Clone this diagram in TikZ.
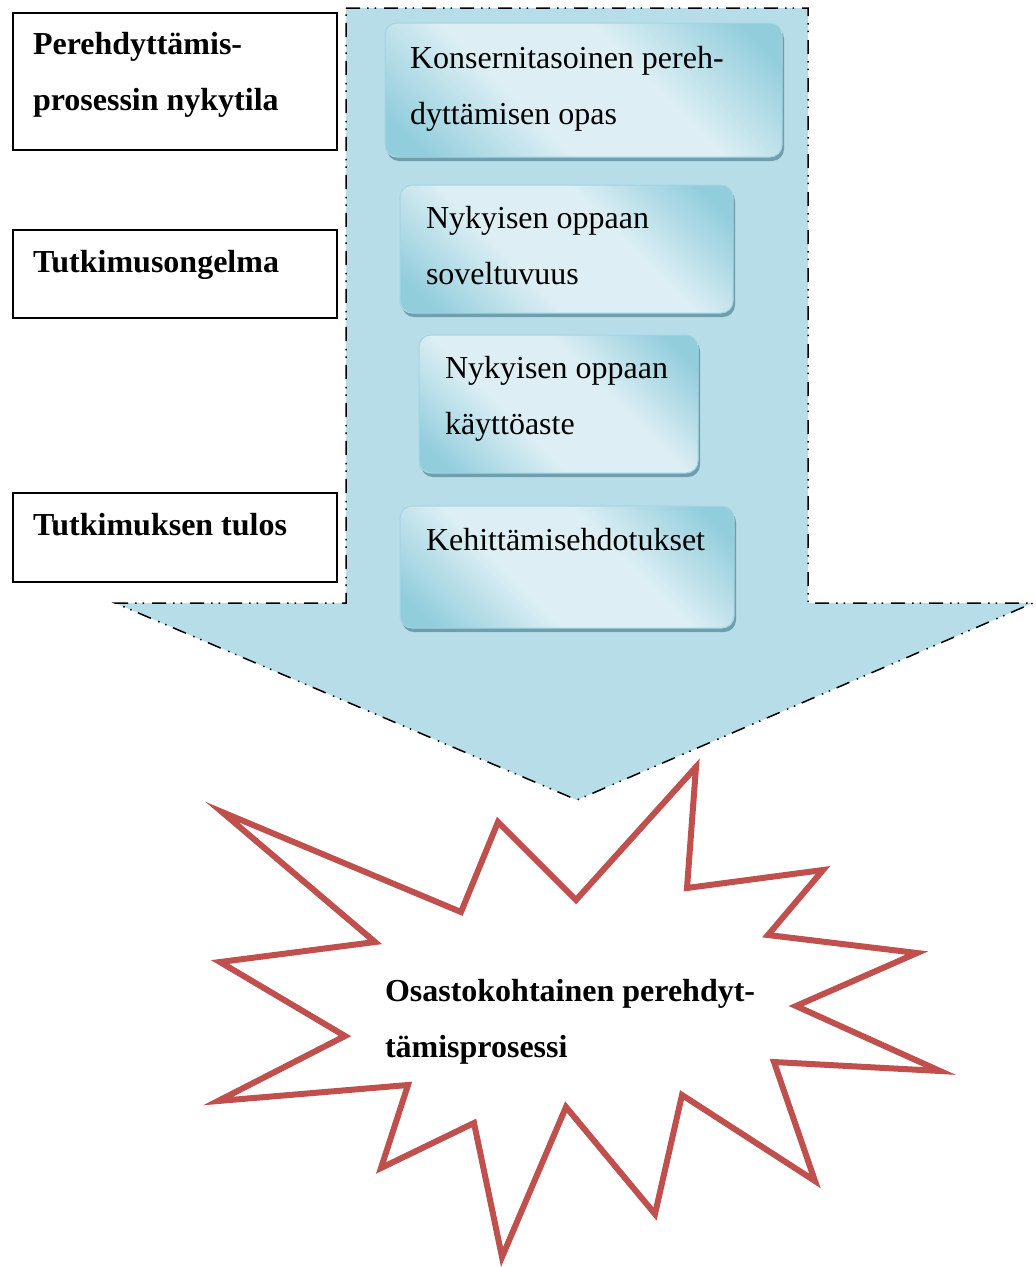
\documentclass[tikz,border=0pt]{standalone}
\usepackage{fontspec}
\setmainfont{Liberation Serif}
\usetikzlibrary{shadows}

\definecolor{arrowfill}{HTML}{B7DDE8}
\definecolor{boxdark}{HTML}{92CDDC}
\definecolor{boxlight}{HTML}{DDEFF4}
\definecolor{boxedge}{HTML}{A3D5E2}
\definecolor{boxshade}{HTML}{6F9EAC}
\definecolor{starred}{HTML}{C0504D}

% diagonal glass band: dark corners, light middle
\pgfdeclarehorizontalshading{glassband}{100bp}{color(0bp)=(boxdark); color(20bp)=(boxdark); color(40bp)=(boxlight); color(60bp)=(boxlight); color(80bp)=(boxdark); color(100bp)=(boxdark)}

% invisible strut that fixes the height of a first text line
\newcommand\lnstrut{\rule{0pt}{40pt}}

\begin{document}
\begin{tikzpicture}[x=1pt,y=-1pt,
  every node/.style={inner sep=0pt, outer sep=0pt},
  label box/.style={rectangle, draw=black, line width=1.5pt, fill=white, anchor=north west},
  glass box/.style={rectangle, rounded corners=12pt, anchor=north west,
    draw=boxedge, line width=1pt, shading=glassband, shading angle=45,
    general shadow={fill=boxshade, shadow xshift=2pt, shadow yshift=-4pt}},
  plain text/.style={anchor=north west, align=left, font=\fontsize{32}{56}\selectfont},
  bold text/.style={anchor=north west, align=left, font=\fontsize{32}{56}\selectfont\bfseries},
  flow border/.style={draw=black, line width=1.5pt,
    dash pattern=on 14pt off 7pt on 1.5pt off 6pt on 1.5pt off 8pt},
  star line/.style={draw=starred, line width=6pt, line join=miter, fill=white},
]
\useasboundingbox (0,0) rectangle (1036,1267);

% large down arrow behind the steps
\path[fill=arrowfill, flow border]
  (346,8) -- (808,8) -- (808,603) -- (1033,603) -- (577,800)
  -- (115,603) -- (346,603) -- cycle;

% phase labels on the left
\node[label box, minimum width=324, minimum height=137] (phase1) at (13,13) {};
\node[label box, minimum width=324, minimum height=88]  (phase2) at (13,230) {};
\node[label box, minimum width=324, minimum height=89]  (phase3) at (13,493) {};
\node[bold text] (phase1t) at (33,14)  {\lnstrut Perehdyttämis-\\prosessin nykytila};
\node[bold text] (phase2t) at (33,232) {\lnstrut Tutkimusongelma};
\node[bold text] (phase3t) at (33,495) {\lnstrut Tutkimuksen tulos};

% steps inside the arrow
\node[glass box, minimum width=397, minimum height=134] (step1) at (385,23)  {};
\node[glass box, minimum width=333, minimum height=128] (step2) at (400,185) {};
\node[glass box, minimum width=279, minimum height=138] (step3) at (419,335) {};
\node[glass box, minimum width=334, minimum height=122] (step4) at (400,506) {};
\node[plain text] (step1t) at (410,28)  {\lnstrut Konsernitasoinen pereh-\\dyttämisen opas};
\node[plain text] (step2t) at (426,188) {\lnstrut Nykyisen oppaan\\soveltuvuus};
\node[plain text] (step3t) at (445,338) {\lnstrut Nykyisen oppaan\\käyttöaste};
\node[plain text] (step4t) at (426,510) {\lnstrut Kehittämisehdotukset};

% outcome burst
\path[star line]
  (222,812) -- (461,912) -- (498,822) -- (576,900) -- (696,767) -- (687,888)
  -- (823,870) -- (768,935) -- (917,953) -- (796,1006) -- (940,1071) -- (774,1062)
  -- (815,1181) -- (682,1095) -- (655,1214) -- (566,1107) -- (502,1257) -- (474,1123)
  -- (381,1168) -- (408,1085) -- (218,1101) -- (345,1036) -- (220,962) -- (375,942)
  -- cycle;
\node[bold text] (result) at (385,961) {\lnstrut Osastokohtainen perehdyt-\\tämisprosessi};
\end{tikzpicture}
\end{document}
